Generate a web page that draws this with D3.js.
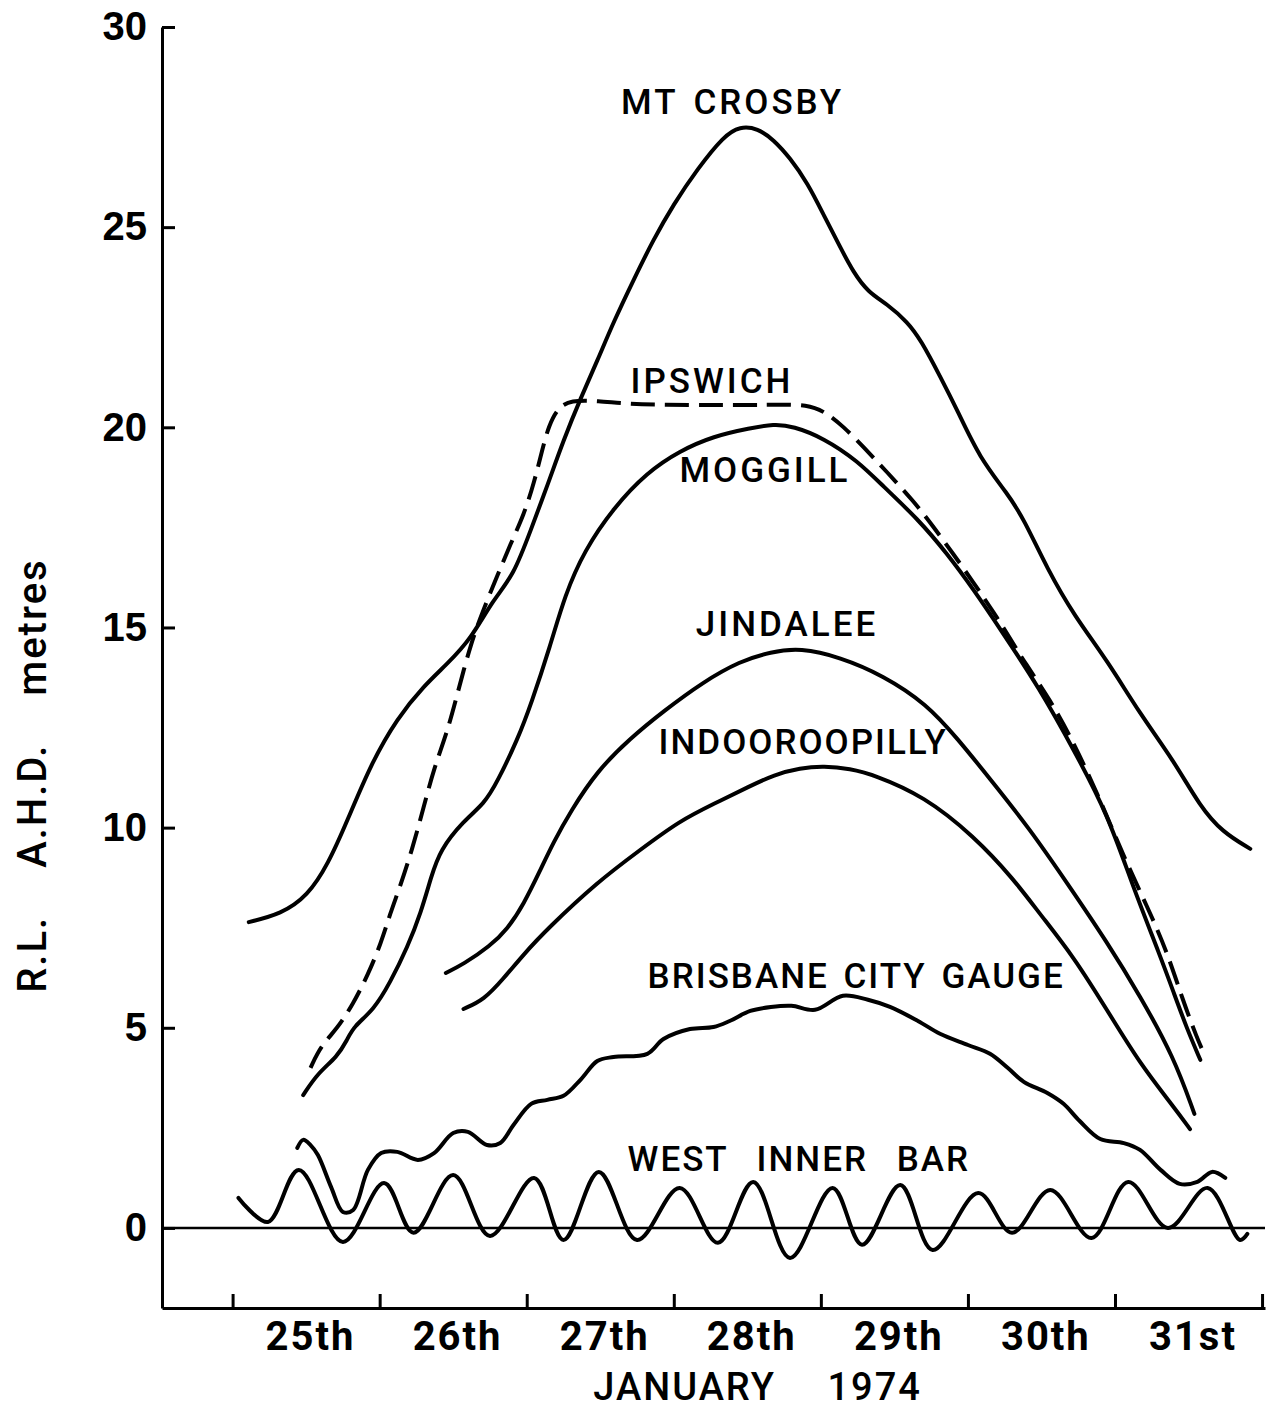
<!DOCTYPE html>
<html>
<head>
<meta charset="utf-8">
<script src="https://cdn.jsdelivr.net/npm/d3@7"></script>
<style>
    body { margin: 0; background: #fff; }
    svg { display: block; font-family: Roboto, "DejaVu Sans", sans-serif; }
</style>
</head>
<body>
<svg></svg>
<script>
const width = 1266;
const height = 1412;

// [day of January 1974, R.L. A.H.D. metres]
const mtCrosby = [
    [25.11, 7.64], [25.33, 7.84], [25.51, 8.29], [25.65, 9.09], [25.78, 10.17], [25.94, 11.59],
    [26.12, 12.74], [26.30, 13.54], [26.46, 14.09], [26.62, 14.71], [26.77, 15.69], [26.91, 16.29],
    [27.03, 17.46], [27.14, 18.54], [27.25, 19.68], [27.37, 20.76], [27.48, 21.66], [27.59, 22.63],
    [27.73, 23.71], [27.86, 24.68], [28.00, 25.58], [28.16, 26.45], [28.34, 27.28], [28.45, 27.52],
    [28.57, 27.47], [28.68, 27.18], [28.79, 26.73], [28.91, 26.10], [29.02, 25.30], [29.13, 24.51],
    [29.22, 23.88], [29.32, 23.38], [29.45, 23.08], [29.59, 22.63], [29.68, 22.18], [29.81, 21.28],
    [29.93, 20.41], [30.08, 19.23], [30.27, 18.34], [30.38, 17.71], [30.54, 16.46], [30.72, 15.31],
    [30.95, 14.16], [31.17, 12.84], [31.40, 11.67], [31.58, 10.52], [31.73, 9.89], [31.92, 9.47]
];

const ipswich = [
    [25.53, 4.00], [25.60, 4.55], [25.71, 4.97], [25.82, 5.60], [25.92, 6.32], [26.01, 7.12],
    [26.07, 7.84], [26.14, 8.54], [26.22, 9.44], [26.30, 10.52], [26.37, 11.49], [26.46, 12.39],
    [26.53, 13.36], [26.62, 14.61], [26.71, 15.49], [26.80, 16.29], [26.89, 17.09], [26.98, 17.81],
    [27.05, 18.61], [27.11, 19.51], [27.15, 20.03], [27.21, 20.48], [27.30, 20.68], [27.48, 20.66],
    [27.70, 20.58], [27.93, 20.56], [28.27, 20.56], [28.52, 20.56], [28.68, 20.56], [28.91, 20.58],
    [29.04, 20.36], [29.15, 20.03], [29.29, 19.51], [29.45, 18.88], [29.63, 18.16], [29.76, 17.54],
    [29.90, 16.84], [30.04, 16.11], [30.17, 15.41], [30.31, 14.59], [30.38, 14.16], [30.56, 13.19],
    [30.72, 12.12], [30.90, 10.69], [31.06, 9.27], [31.22, 8.02], [31.35, 6.94], [31.46, 5.70],
    [31.56, 4.72], [31.61, 4.32]
];

const moggill = [
    [25.48, 3.32], [25.58, 3.87], [25.71, 4.27], [25.78, 4.70], [25.82, 5.02], [25.96, 5.45],
    [26.07, 6.12], [26.19, 7.02], [26.28, 7.87], [26.35, 8.77], [26.41, 9.44], [26.57, 10.17],
    [26.71, 10.59], [26.80, 11.14], [26.94, 12.22], [27.03, 13.09], [27.16, 14.54], [27.26, 15.81],
    [27.39, 16.91], [27.59, 17.99], [27.82, 18.88], [28.04, 19.41], [28.27, 19.78], [28.52, 19.98],
    [28.68, 20.08], [28.81, 20.03], [29.02, 19.73], [29.25, 19.16], [29.42, 18.54], [29.66, 17.71],
    [29.86, 16.84], [30.04, 15.94], [30.22, 14.96], [30.49, 13.46], [30.72, 11.94], [30.95, 10.34],
    [31.12, 8.54], [31.31, 6.77], [31.40, 5.87], [31.49, 4.97], [31.58, 4.20]
];

const jindalee = [
    [26.45, 6.37], [26.57, 6.59], [26.75, 7.04], [26.87, 7.47], [26.98, 8.09], [27.09, 8.92],
    [27.18, 9.62], [27.30, 10.42], [27.48, 11.42], [27.70, 12.22], [27.93, 12.91], [28.20, 13.64],
    [28.45, 14.16], [28.66, 14.39], [28.86, 14.49], [29.13, 14.26], [29.42, 13.81], [29.72, 13.09],
    [29.93, 12.22], [30.15, 11.22], [30.42, 9.97], [30.67, 8.64], [30.95, 7.12], [31.17, 5.80],
    [31.40, 4.27], [31.54, 2.85]
];

const indooroopilly = [
    [26.57, 5.47], [26.71, 5.70], [26.84, 6.22], [26.98, 6.84], [27.14, 7.47], [27.48, 8.64],
    [27.77, 9.44], [28.04, 10.17], [28.27, 10.59], [28.52, 11.04], [28.68, 11.32], [28.86, 11.49],
    [29.02, 11.54], [29.20, 11.47], [29.36, 11.32], [29.70, 10.79], [30.04, 9.79], [30.31, 8.72],
    [30.49, 7.84], [30.72, 6.77], [30.95, 5.42], [31.17, 4.10], [31.40, 3.02], [31.51, 2.47]
];

const brisbaneCity = [
    [25.44, 2.00], [25.48, 2.20], [25.53, 2.07], [25.58, 1.82], [25.67, 1.02], [25.75, 0.40],
    [25.82, 0.45], [25.92, 1.45], [26.01, 1.87], [26.12, 1.90], [26.26, 1.70], [26.37, 1.87],
    [26.50, 2.37], [26.60, 2.40], [26.73, 2.07], [26.82, 2.12], [26.91, 2.57], [27.03, 3.10],
    [27.14, 3.20], [27.25, 3.30], [27.37, 3.72], [27.48, 4.17], [27.59, 4.27], [27.82, 4.35],
    [27.93, 4.72], [28.11, 4.97], [28.27, 5.02], [28.38, 5.17], [28.52, 5.42], [28.66, 5.52],
    [28.80, 5.55], [28.96, 5.45], [29.15, 5.80], [29.32, 5.70], [29.47, 5.52], [29.66, 5.17],
    [29.81, 4.85], [30.00, 4.57], [30.15, 4.35], [30.27, 4.00], [30.38, 3.65], [30.54, 3.37],
    [30.65, 3.10], [30.76, 2.67], [30.90, 2.22], [31.06, 2.12], [31.17, 1.95], [31.31, 1.45],
    [31.44, 1.10], [31.56, 1.15], [31.66, 1.40], [31.75, 1.25]
];

// tide highs and lows
const westInnerBar = [
    [25.04, 0.75], [25.24, 0.15], [25.45, 1.45], [25.75, -0.35], [26.03, 1.12], [26.23, -0.12],
    [26.50, 1.32], [26.75, -0.20], [27.05, 1.25], [27.25, -0.30], [27.49, 1.40], [27.75, -0.30],
    [28.04, 1.00], [28.30, -0.37], [28.54, 1.15], [28.79, -0.75], [29.08, 1.00], [29.28, -0.42],
    [29.54, 1.07], [29.76, -0.55], [30.07, 0.87], [30.30, -0.12], [30.56, 0.95], [30.84, -0.25],
    [31.09, 1.15], [31.36, 0.00], [31.63, 1.00], [31.85, -0.30], [31.90, -0.15]
];

const dayTicks = [25, 26, 27, 28, 29, 30, 31, 32];
const dayLabels = ["25th", "26th", "27th", "28th", "29th", "30th", "31st"];
const levelTicks = [0, 5, 10, 15, 20, 25, 30];

// smooth river curves vs. the wigglier gauge and tide traces
const series = [
    {name: "MT CROSBY", values: mtCrosby, at: [28.40, 27.83], smooth: true},
    {name: "IPSWICH", values: ipswich, at: [28.26, 20.86], smooth: true, dashed: true},
    {name: "MOGGILL", values: moggill, at: [28.62, 18.64], smooth: true},
    {name: "JINDALEE", values: jindalee, at: [28.77, 14.79], smooth: true},
    {name: "INDOOROOPILLY", values: indooroopilly, at: [28.88, 11.84], smooth: true},
    {name: "BRISBANE CITY GAUGE", values: brisbaneCity, at: [29.24, 6.00]},
    {name: "WEST INNER BAR", values: westInnerBar, at: [28.85, 1.42]}
];

let svg = d3.select("svg")
    .attr("width", width)
    .attr("height", height);

let x = d3.scaleLinear().domain([24.52, 32.02]).range([162, 1265]);
let y = d3.scaleLinear().domain([-2, 30]).range([1308, 27]);

// y axis, ticks point into the plot
let axisY = svg.append("g")
    .attr("transform", `translate(${x(24.52)}, 0)`)
    .call(d3.axisLeft(y).tickValues(levelTicks).tickSize(-13).tickSizeOuter(0).tickPadding(15));
axisY.select(".domain").attr("stroke-width", 3);
axisY.selectAll(".tick line").attr("stroke-width", 3);
axisY.selectAll(".tick text")
    .attr("font-size", 40)
    .attr("font-weight", 700)
    .attr("fill", "#000");

// x axis: ticks at day boundaries, labels between them
let axisX = svg.append("g")
    .attr("transform", `translate(0, ${y(-2)})`)
    .call(d3.axisBottom(x).tickValues(dayTicks).tickSize(-14).tickSizeOuter(0).tickFormat(""));
axisX.select(".domain").attr("stroke-width", 3);
axisX.selectAll(".tick line").attr("stroke-width", 3);

svg.append("g")
    .selectAll("text")
    .data(dayLabels)
    .enter()
    .append("text")
    .attr("x", (d, i) => x(dayTicks[i] + 0.53))
    .attr("y", y(-2) + 42)
    .attr("text-anchor", "middle")
    .attr("font-size", 40)
    .attr("font-weight", 700)
    .attr("letter-spacing", 2)
    .text(d => d);

svg.append("text")
    .attr("x", x(28.57))
    .attr("y", 1400)
    .attr("text-anchor", "middle")
    .attr("font-size", 38)
    .attr("font-weight", 500)
    .attr("letter-spacing", 2)
    .attr("word-spacing", 40)
    .text("JANUARY 1974");

svg.append("text")
    .attr("transform", `translate(46, ${y(11.3)}) rotate(-90)`)
    .attr("text-anchor", "middle")
    .attr("font-size", 40)
    .attr("font-weight", 500)
    .attr("letter-spacing", 2)
    .attr("word-spacing", 36)
    .text("R.L. A.H.D. metres");

// zero datum line
svg.append("line")
    .attr("x1", x(24.52))
    .attr("x2", x(32.02))
    .attr("y1", y(0))
    .attr("y2", y(0))
    .attr("stroke", "#000")
    .attr("stroke-width", 2.5);

let smoothLine = d3.line()
    .x(d => x(d[0]))
    .y(d => y(d[1]))
    .curve(d3.curveBasis);

let wavyLine = d3.line()
    .x(d => x(d[0]))
    .y(d => y(d[1]))
    .curve(d3.curveCatmullRom.alpha(0.5));

svg.append("g")
    .selectAll("path")
    .data(series)
    .enter()
    .append("path")
    .attr("d", d => d.smooth ? smoothLine(d.values) : wavyLine(d.values))
    .attr("fill", "none")
    .attr("stroke", "#000")
    .attr("stroke-width", 4)
    .attr("stroke-linecap", d => d.dashed ? "butt" : "round")
    .attr("stroke-dasharray", d => d.dashed ? "24,10" : null);

svg.append("g")
    .selectAll("text")
    .data(series)
    .enter()
    .append("text")
    .attr("x", d => x(d.at[0]))
    .attr("y", d => y(d.at[1]))
    .attr("text-anchor", "middle")
    .attr("font-size", 35)
    .attr("font-weight", 500)
    .attr("letter-spacing", d => d.name.length > 12 ? 2 : 3)
    .attr("word-spacing", d => d.name === "WEST INNER BAR" ? 18 : 4)
    .text(d => d.name);
</script>
</body>
</html>
